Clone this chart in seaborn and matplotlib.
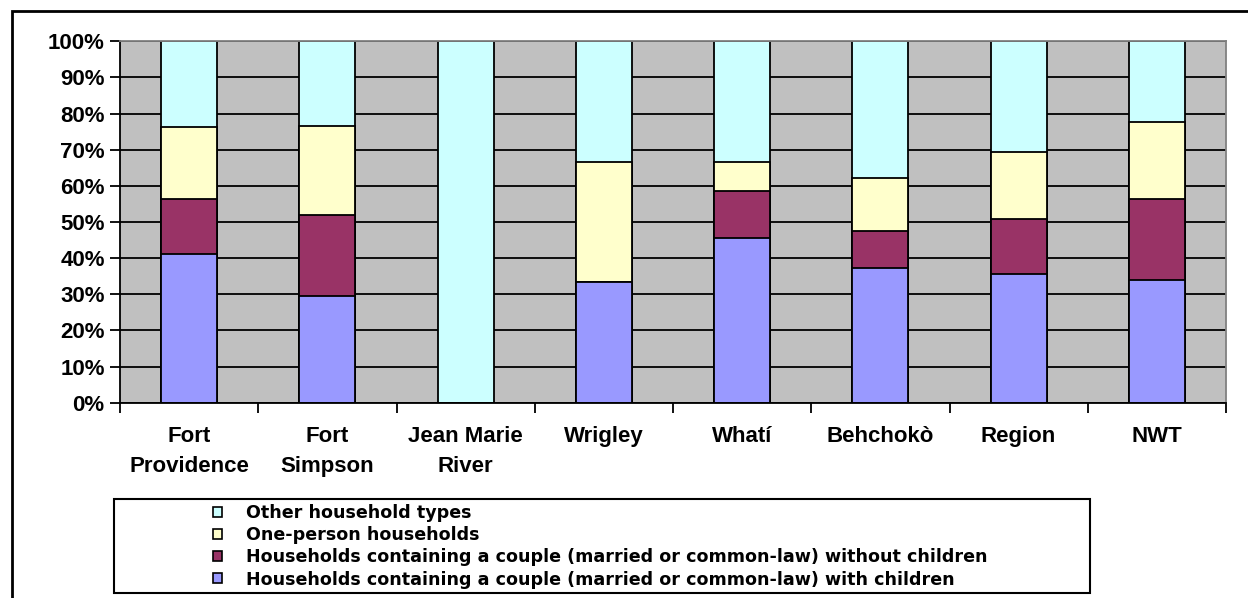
import numpy as np
import pandas as pd
import matplotlib
matplotlib.use("Agg")
import matplotlib.pyplot as plt
from matplotlib.patches import Patch, Rectangle
from matplotlib.ticker import FixedLocator, PercentFormatter
import seaborn as sns

# -------------------------------
# DATOS (porcentaje de hogares)
# -------------------------------
communities = ["Fort\nProvidence", "Fort\nSimpson", "Jean Marie\nRiver", "Wrigley",
               "Whatí", "Behchokò", "Region", "NWT"]
with_children    = [41.1, 29.6, 0.0, 33.3, 45.7, 37.4, 35.7, 34.0]
without_children = [15.2, 22.2, 0.0, 0.0, 12.8, 10.0, 15.1, 22.3]
one_person       = [19.9, 24.9, 0.0, 33.3, 8.2, 14.9, 18.7, 21.5]
other_types      = [23.8, 23.3, 100.0, 33.4, 33.3, 37.7, 30.5, 22.2]

series_labels = [
    "Households containing a couple (married or common-law) with children",
    "Households containing a couple (married or common-law) without children",
    "One-person households",
    "Other household types",
]
series_colors = ["#9999FF", "#993366", "#FFFFCC", "#CCFFFF"]

df = pd.DataFrame({"community": communities,
                   series_labels[0]: with_children,
                   series_labels[1]: without_children,
                   series_labels[2]: one_person,
                   series_labels[3]: other_types})
cum = df[series_labels].cumsum(axis=1)

# -------------------------------
# ESTILO
# -------------------------------
sns.set_style("white")
plt.rcParams["font.family"] = ["Liberation Sans", "DejaVu Sans"]
plt.rcParams["font.weight"] = "bold"
plt.rcParams["text.color"] = "black"
plt.rcParams["xtick.color"] = "black"
plt.rcParams["ytick.color"] = "black"

fig = plt.figure(figsize=(12.48, 5.98), dpi=100)
ax = fig.add_axes([120 / 1248, 1 - 402.7 / 598, 1106 / 1248, 361.4 / 598])
ax.set_facecolor("#C0C0C0")

# barras apiladas: se dibuja del total acumulado hacia abajo
for lab, col in reversed(list(zip(series_labels, series_colors))):
    sns.barplot(x=df["community"], y=cum[lab], color=col, width=0.405,
                edgecolor="black", linewidth=1.3, saturation=1, ax=ax,
                order=communities)

ax.set_ylim(0, 100)
ax.set_xlim(-0.5, len(communities) - 0.5)
ax.set_yticks(np.arange(0, 101, 10))
ax.yaxis.set_major_formatter(PercentFormatter(decimals=0))
ax.set_xlabel(""); ax.set_ylabel("")

ax.set_axisbelow(True)
ax.yaxis.grid(True, color="black", linewidth=1.3)
ax.xaxis.grid(False)

ax.xaxis.set_minor_locator(FixedLocator(np.arange(-0.5, len(communities), 1.0)))
ax.tick_params(axis="x", which="major", length=0, pad=17, labelsize=16,
               labelcolor="black")
ax.tick_params(axis="x", which="minor", length=7, width=1.3, color="black",
               direction="out", bottom=True)
ax.tick_params(axis="y", length=7, width=1.3, color="black", direction="out",
               left=True, pad=4, labelsize=16, labelcolor="black")
for t in ax.get_xticklabels():
    t.set_linespacing(1.55)
    t.set_fontweight("bold")
for t in ax.get_yticklabels():
    t.set_fontweight("bold")

for s in ["left", "bottom"]:
    ax.spines[s].set_color("black"); ax.spines[s].set_linewidth(1.3)
for s in ["top", "right"]:
    ax.spines[s].set_color("#808080"); ax.spines[s].set_linewidth(1.3)

# -------------------------------
# LEYENDA
# -------------------------------
fig.add_artist(Rectangle((114 / 1248, 1 - 593 / 598), 976 / 1248, 94 / 598,
                         transform=fig.transFigure, facecolor="white",
                         edgecolor="black", linewidth=1.5))
handles = [Patch(facecolor=c, edgecolor="black", linewidth=1.2)
           for c in reversed(series_colors)]
leg = fig.legend(handles, list(reversed(series_labels)), loc="upper left",
                 bbox_to_anchor=(199 / 1248, 1 - 490 / 598), frameon=False,
                 prop={"family": "DejaVu Sans", "size": 12.6, "weight": "bold"},
                 labelcolor="black",
                 handlelength=0.5, handleheight=0.5, handletextpad=1.4,
                 labelspacing=0.24, borderpad=0.3)

# marco exterior
fig.add_artist(Rectangle((12 / 1248, -0.02), 1.1, 1 - 11 / 598 + 0.02,
                         transform=fig.transFigure, fill=False,
                         edgecolor="black", linewidth=2))

fig.savefig("out.png", dpi=100)
